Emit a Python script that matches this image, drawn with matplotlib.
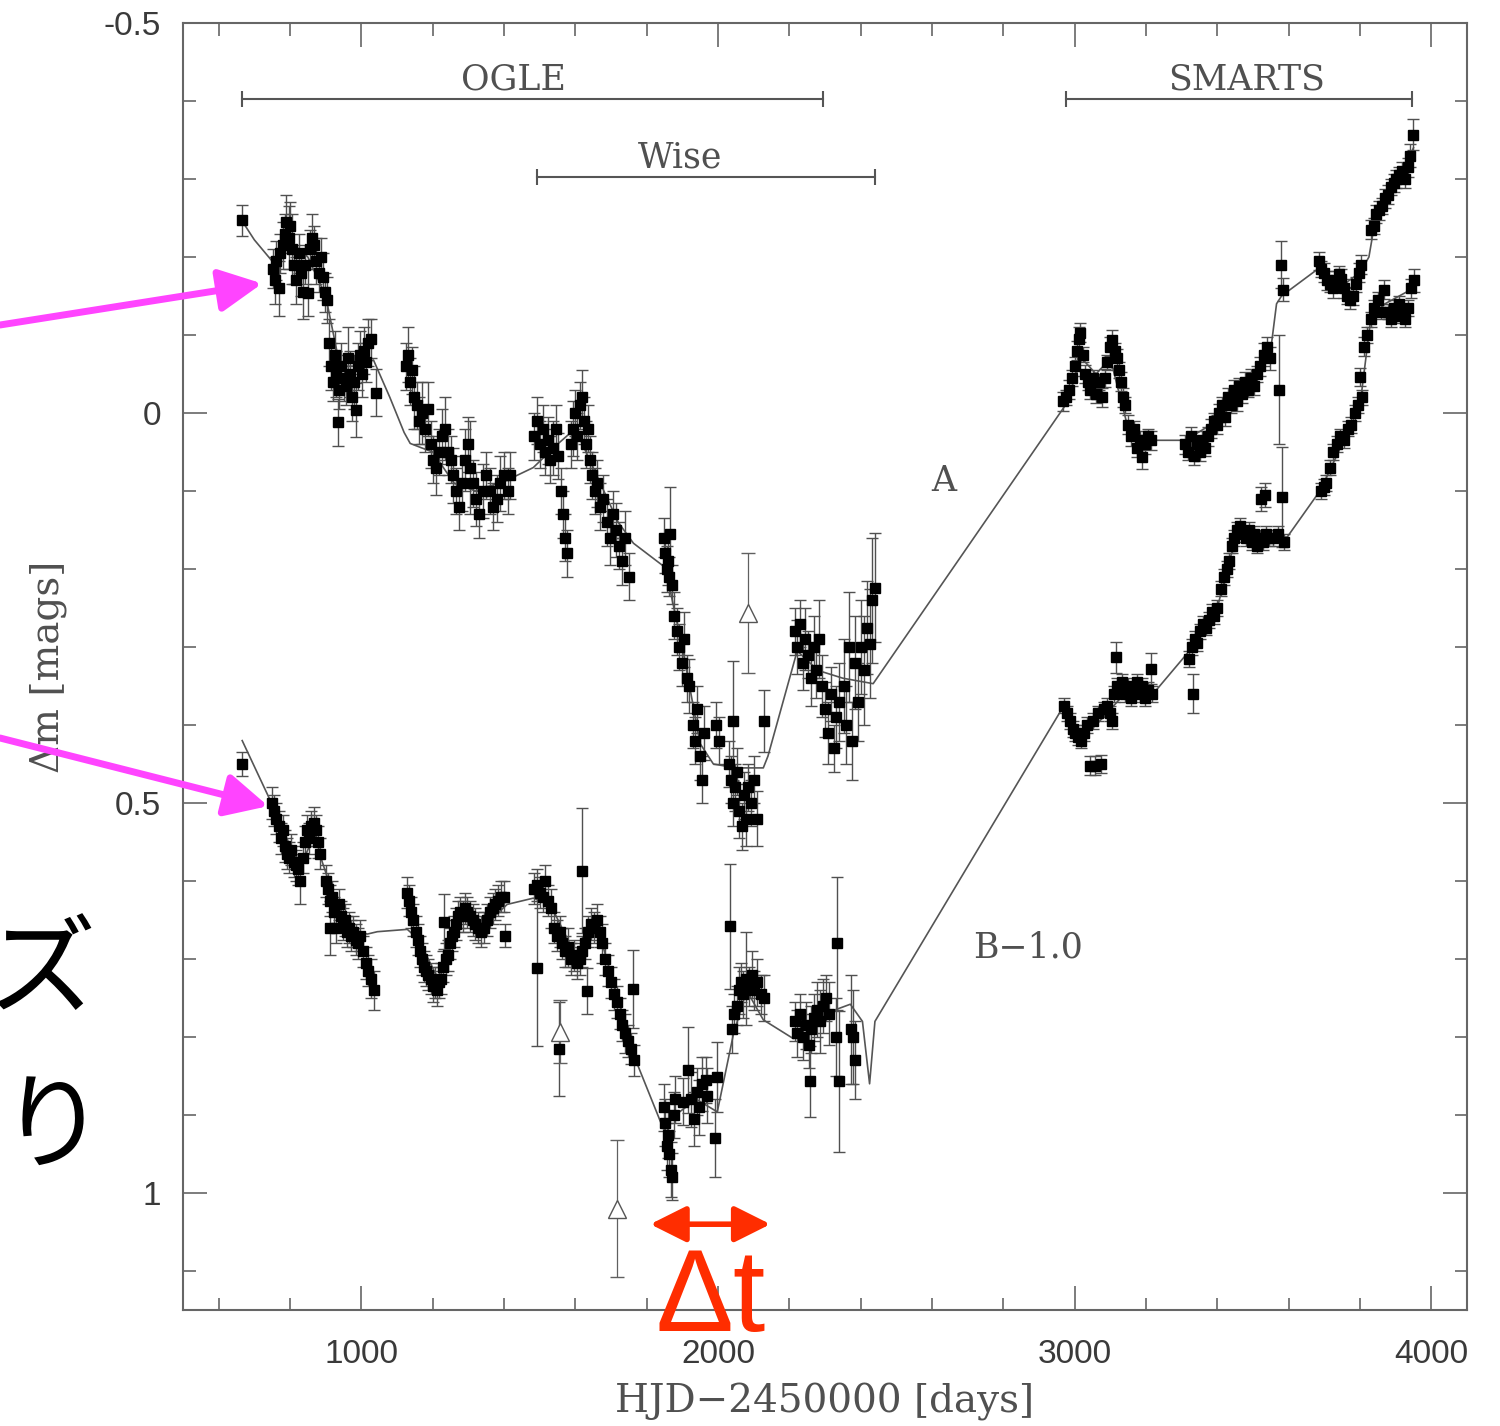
import matplotlib
matplotlib.use("Agg")
import matplotlib.pyplot as plt
from matplotlib.ticker import FixedLocator, MultipleLocator, FixedFormatter

# ---------------- light curve of image A (OGLE + SMARTS) ----------------
a_day = [
    666, 752, 757, 762, 768, 773, 779, 785, 790, 796,
    801, 807, 812, 818, 824, 830, 836, 842, 850, 856,
    862, 868, 874, 880, 886, 892, 898, 904,
    910, 915, 920, 925, 930, 934, 938, 944, 950, 956,
    962, 968, 974, 980, 985, 990, 996, 1002, 1008, 1014,
    1020, 1026, 1040,
    1125, 1130, 1136, 1142, 1148, 1155, 1162, 1170, 1178, 1186,
    1195, 1202, 1210, 1218, 1226, 1234, 1242, 1250, 1258, 1266,
    1274, 1282, 1290, 1298, 1306, 1314, 1322, 1330, 1340, 1350,
    1360, 1370, 1380, 1390, 1400, 1410, 1418,
    1485, 1492, 1500, 1508, 1515, 1522, 1530, 1538, 1546, 1552,
    1560, 1566, 1572, 1578, 1588, 1594, 1600, 1606, 1612, 1618,
    1624, 1630, 1636, 1642, 1648, 1655, 1662, 1670, 1678, 1690,
    1698, 1706, 1714, 1722, 1730, 1740, 1750,
    1848, 1852, 1856, 1860, 1864, 1866, 1872, 1878, 1885, 1892,
    1898, 1905, 1912, 1920, 1930, 1936, 1942, 1950, 1956, 1962,
    1995, 2003, 2030, 2036, 2042, 2043, 2048, 2054, 2060, 2066,
    2072, 2078, 2084, 2092, 2100, 2108, 2128,
    2215, 2222, 2230, 2238, 2245, 2252, 2260, 2268, 2276, 2284,
    2292, 2300, 2308, 2316, 2324, 2332, 2340, 2352, 2360, 2368,
    2376, 2384, 2392, 2400, 2410, 2418, 2426, 2432, 2440,
    2968, 2976, 2984, 2992, 3000, 3006, 3012, 3016, 3022, 3028,
    3036, 3044, 3052, 3060, 3068, 3076, 3084, 3092, 3100, 3106,
    3112, 3118, 3124, 3130, 3136, 3142, 3150, 3158, 3166, 3174,
    3182, 3190, 3198, 3206, 3214,
    3310, 3318, 3326, 3334, 3342, 3350, 3358, 3366, 3374, 3382,
    3390, 3398, 3406, 3414, 3422, 3430, 3438, 3446, 3454, 3462,
    3470, 3478, 3486, 3494, 3502, 3510, 3520, 3530, 3540, 3548,
    3572, 3578, 3585,
    3685, 3692, 3700, 3708, 3716, 3724, 3732, 3740, 3748, 3756,
    3764, 3772, 3780, 3788, 3796, 3804,
    3830, 3838, 3846, 3854, 3862, 3870, 3878, 3886, 3894, 3902,
    3910, 3918, 3926, 3934, 3940, 3948,
]
a_mag = [
    -0.247, -0.185, -0.170, -0.195, -0.160, -0.205, -0.215, -0.230, -0.245, -0.225,
    -0.240, -0.210, -0.190, -0.170, -0.205, -0.180, -0.155, -0.190, -0.154, -0.210,
    -0.225, -0.215, -0.195, -0.180, -0.200, -0.175, -0.155, -0.145,
    -0.090, -0.060, -0.040, -0.075, -0.050, 0.012, -0.030, -0.060, -0.045, -0.035,
    -0.070, -0.050, -0.020, -0.040, -0.004, -0.060, -0.075, -0.050, -0.080, -0.065,
    -0.090, -0.095, -0.026,
    -0.060, -0.075, -0.040, -0.055, -0.020, -0.010, 0.010, 0.000, 0.020, -0.005,
    0.040, 0.060, 0.070, 0.050, 0.030, 0.020, 0.050, 0.060, 0.080, 0.100,
    0.120, 0.090, 0.060, 0.040, 0.070, 0.090, 0.110, 0.130, 0.100, 0.080,
    0.100, 0.120, 0.110, 0.090, 0.080, 0.100, 0.080,
    0.030, 0.010, 0.040, 0.020, 0.050, 0.035, 0.060, 0.045, 0.020, 0.055,
    0.100, 0.130, 0.160, 0.180, 0.040, 0.020, 0.000, 0.030, -0.010, -0.020,
    0.010, 0.040, 0.020, 0.060, 0.080, 0.100, 0.090, 0.120, 0.110, 0.140,
    0.160, 0.130, 0.150, 0.170, 0.190, 0.160, 0.210,
    0.160, 0.180, 0.200, 0.190, 0.210, 0.155, 0.220, 0.260, 0.280, 0.300,
    0.320, 0.290, 0.340, 0.350, 0.400, 0.420, 0.380, 0.440, 0.470, 0.410,
    0.400, 0.420, 0.450, 0.470, 0.500, 0.395, 0.480, 0.460, 0.510, 0.530,
    0.490, 0.520, 0.480, 0.500, 0.470, 0.520, 0.395,
    0.280, 0.300, 0.270, 0.320, 0.290, 0.310, 0.340, 0.300, 0.330, 0.290,
    0.350, 0.380, 0.410, 0.360, 0.430, 0.390, 0.370, 0.350, 0.400, 0.300,
    0.420, 0.320, 0.370, 0.300, 0.330, 0.275, 0.296, 0.240, 0.224,
    -0.015, -0.020, -0.030, -0.045, -0.060, -0.080, -0.095, -0.103, -0.075, -0.050,
    -0.040, -0.030, -0.045, -0.025, -0.040, -0.020, -0.045, -0.065, -0.085, -0.094,
    -0.080, -0.070, -0.055, -0.040, -0.020, -0.010, 0.015, 0.030, 0.020, 0.045,
    0.035, 0.057, 0.040, 0.030, 0.035,
    0.040, 0.050, 0.030, 0.055, 0.040, 0.050, 0.035, 0.045, 0.030, 0.020,
    0.010, 0.015, 0.000, -0.010, 0.005, -0.020, -0.010, -0.030, -0.015, -0.035,
    -0.025, -0.040, -0.030, -0.045, -0.035, -0.050, -0.060, -0.075, -0.085, -0.070,
    -0.030, -0.190, -0.158,
    -0.195, -0.185, -0.180, -0.170, -0.165, -0.160, -0.170, -0.178, -0.172, -0.160,
    -0.150, -0.145, -0.150, -0.165, -0.180, -0.190,
    -0.235, -0.240, -0.255, -0.260, -0.265, -0.275, -0.280, -0.290, -0.295, -0.300,
    -0.305, -0.310, -0.300, -0.315, -0.330, -0.357,
]
a_err = [
    0.020, 0.025, 0.030, 0.025, 0.035, 0.025, 0.030, 0.025, 0.035, 0.040,
    0.030, 0.045, 0.025, 0.030, 0.025, 0.030, 0.035, 0.025, 0.030, 0.025,
    0.030, 0.025, 0.030, 0.025, 0.025, 0.030, 0.025, 0.030,
    0.030, 0.030, 0.025, 0.030, 0.030, 0.030, 0.025, 0.030, 0.030, 0.025,
    0.040, 0.030, 0.030, 0.035, 0.035, 0.030, 0.030, 0.030, 0.030, 0.025,
    0.030, 0.025, 0.030,
    0.030, 0.035, 0.030, 0.030, 0.040, 0.030, 0.030, 0.040, 0.030, 0.035,
    0.030, 0.030, 0.035, 0.030, 0.035, 0.040, 0.030, 0.030, 0.035, 0.030,
    0.030, 0.035, 0.040, 0.035, 0.060, 0.030, 0.035, 0.030, 0.035, 0.030,
    0.030, 0.030, 0.030, 0.035, 0.030, 0.030, 0.030,
    0.030, 0.030, 0.030, 0.030, 0.030, 0.030, 0.030, 0.035, 0.030, 0.030,
    0.030, 0.030, 0.030, 0.030, 0.030, 0.035, 0.030, 0.030, 0.030, 0.035,
    0.030, 0.030, 0.030, 0.030, 0.030, 0.030, 0.030, 0.030, 0.030, 0.030,
    0.035, 0.030, 0.035, 0.030, 0.030, 0.035, 0.030,
    0.025, 0.025, 0.030, 0.030, 0.025, 0.060, 0.025, 0.030, 0.030, 0.030,
    0.030, 0.035, 0.030, 0.035, 0.030, 0.030, 0.030, 0.030, 0.030, 0.035,
    0.030, 0.030, 0.030, 0.030, 0.030, 0.077, 0.030, 0.030, 0.035, 0.030,
    0.030, 0.035, 0.030, 0.030, 0.030, 0.035, 0.040,
    0.030, 0.035, 0.030, 0.035, 0.040, 0.030, 0.035, 0.040, 0.035, 0.050,
    0.040, 0.035, 0.040, 0.035, 0.030, 0.040, 0.050, 0.060, 0.050, 0.070,
    0.050, 0.060, 0.050, 0.060, 0.070, 0.060, 0.070, 0.080, 0.070,
    0.012, 0.010, 0.012, 0.010, 0.012, 0.012, 0.015, 0.012, 0.010, 0.012,
    0.010, 0.012, 0.010, 0.012, 0.010, 0.012, 0.012, 0.010, 0.012, 0.012,
    0.010, 0.012, 0.010, 0.012, 0.012, 0.010, 0.012, 0.012, 0.010, 0.012,
    0.012, 0.015, 0.012, 0.010, 0.012,
    0.012, 0.010, 0.012, 0.012, 0.010, 0.012, 0.012, 0.010, 0.012, 0.012,
    0.010, 0.012, 0.012, 0.010, 0.012, 0.012, 0.010, 0.012, 0.012, 0.010,
    0.012, 0.012, 0.010, 0.012, 0.012, 0.010, 0.012, 0.015, 0.012, 0.015,
    0.070, 0.030, 0.015,
    0.012, 0.010, 0.012, 0.012, 0.010, 0.012, 0.012, 0.010, 0.012, 0.012,
    0.010, 0.012, 0.012, 0.010, 0.012, 0.012,
    0.012, 0.010, 0.012, 0.012, 0.010, 0.012, 0.012, 0.010, 0.012, 0.012,
    0.010, 0.012, 0.012, 0.012, 0.015, 0.020,
]

# ---------------- light curve of image B, shifted by -1.0 mag ----------------
b_day = [
    666, 750, 756, 762, 768, 774, 780, 786, 792, 798,
    804, 810, 816, 822, 829, 836, 842, 848, 854, 860,
    866, 872, 878, 884,
    900, 906, 912, 913, 918, 924, 930, 936, 942, 948,
    954, 960, 966, 972, 978, 984, 990, 996, 1004, 1012,
    1020, 1028, 1036,
    1128, 1134, 1140, 1146, 1152, 1158, 1164, 1170, 1176, 1182,
    1188, 1194, 1200, 1206, 1212, 1218, 1224, 1230, 1236, 1242,
    1248, 1254, 1260, 1266, 1272, 1278, 1284, 1290, 1296, 1304,
    1312, 1320, 1328, 1336, 1344, 1352, 1360, 1368, 1376, 1384,
    1392, 1400, 1232, 1402,
    1485, 1492, 1500, 1508, 1516, 1524, 1532, 1540, 1548, 1556,
    1564, 1572, 1580, 1588, 1596, 1604, 1612, 1620, 1628, 1636,
    1644, 1652, 1660, 1668, 1676, 1684, 1692, 1700, 1708, 1716,
    1724, 1732, 1740, 1748, 1756, 1764,
    1493, 1553, 1620, 1634, 1763,
    1848, 1852, 1856, 1860, 1864, 1868, 1872, 1876, 1880, 1903,
    1917, 1925, 1932, 1940, 1948, 1956, 1965, 1970, 1992, 1998,
    2034, 2040, 2046, 2052, 2058, 2064, 2070, 2078, 2086, 2094,
    2102, 2110, 2120, 2130,
    2215, 2222, 2230, 2238, 2246, 2254, 2259, 2262, 2270, 2278,
    2286, 2294, 2302, 2310, 2330, 2334, 2338, 2372, 2378, 2384,
    2970, 2978, 2986, 2994, 3002, 3010, 3018, 3026, 3034, 3042,
    3050, 3058, 3066, 3074, 3082, 3090, 3098, 3106, 3110, 3115,
    3118, 3126, 3134, 3142, 3150, 3158, 3166, 3174, 3182, 3190,
    3198, 3206, 3213, 3216,
    3320, 3328, 3333, 3336, 3344, 3352, 3360, 3368, 3376, 3384,
    3392, 3400, 3410, 3418, 3426, 3434, 3440, 3448, 3456, 3464,
    3472, 3480, 3488, 3496, 3504, 3512, 3520, 3522, 3528, 3535,
    3536, 3544, 3556, 3570, 3582, 3588,
    3690, 3698, 3706, 3715, 3725, 3735, 3745, 3755, 3765, 3775,
    3785, 3795, 3801, 3805, 3810, 3820, 3830, 3840, 3850, 3860,
    3868, 3878, 3886, 3894, 3902, 3910, 3918, 3926, 3934, 3942,
    3950,
]
b_mag = [
    0.450, 0.500, 0.510, 0.520, 0.530, 0.545, 0.535, 0.555, 0.565, 0.570,
    0.560, 0.575, 0.580, 0.585, 0.600, 0.570, 0.550, 0.535, 0.545, 0.530,
    0.525, 0.535, 0.550, 0.565,
    0.600, 0.610, 0.625, 0.660, 0.620, 0.640, 0.660, 0.630, 0.645, 0.655,
    0.650, 0.665, 0.660, 0.670, 0.665, 0.675, 0.680, 0.670, 0.690, 0.705,
    0.715, 0.725, 0.740,
    0.615, 0.625, 0.640, 0.650, 0.665, 0.675, 0.690, 0.700, 0.710, 0.715,
    0.720, 0.725, 0.735, 0.730, 0.740, 0.730, 0.725, 0.710, 0.700, 0.695,
    0.680, 0.670, 0.665, 0.655, 0.645, 0.640, 0.645, 0.635, 0.640, 0.645,
    0.650, 0.655, 0.660, 0.665, 0.660, 0.650, 0.640, 0.635, 0.630, 0.625,
    0.620, 0.620, 0.652, 0.670,
    0.610, 0.605, 0.615, 0.620, 0.600, 0.625, 0.635, 0.660, 0.670, 0.665,
    0.680, 0.690, 0.685, 0.700, 0.695, 0.705, 0.700, 0.690, 0.680, 0.665,
    0.655, 0.660, 0.650, 0.665, 0.680, 0.700, 0.715, 0.730, 0.745, 0.755,
    0.770, 0.785, 0.795, 0.805, 0.815, 0.830,
    0.712, 0.815, 0.587, 0.741, 0.738,
    0.890, 0.910, 0.940, 0.925, 0.950, 0.970, 0.979, 0.900, 0.880, 0.883,
    0.842, 0.880, 0.905, 0.870, 0.890, 0.860, 0.855, 0.875, 0.930, 0.851,
    0.658, 0.790, 0.770, 0.760, 0.740, 0.730, 0.745, 0.725, 0.735, 0.720,
    0.740, 0.730, 0.745, 0.750,
    0.780, 0.795, 0.770, 0.800, 0.785, 0.810, 0.857, 0.790, 0.775, 0.765,
    0.780, 0.760, 0.750, 0.770, 0.800, 0.680, 0.857, 0.790, 0.800, 0.830,
    0.375, 0.385, 0.395, 0.405, 0.410, 0.415, 0.420, 0.410, 0.400, 0.452,
    0.395, 0.452, 0.385, 0.450, 0.380, 0.375, 0.385, 0.395, 0.360, 0.313,
    0.350, 0.355, 0.345, 0.360, 0.350, 0.365, 0.355, 0.345, 0.360, 0.350,
    0.365, 0.355, 0.328, 0.360,
    0.315, 0.300, 0.360, 0.290, 0.295, 0.280, 0.270, 0.275, 0.265, 0.255,
    0.260, 0.250, 0.225, 0.210, 0.200, 0.190, 0.170, 0.160, 0.150, 0.145,
    0.155, 0.160, 0.150, 0.165, 0.155, 0.170, 0.160, 0.110, 0.165, 0.105,
    0.155, 0.160, 0.160, 0.155, 0.108, 0.165,
    0.100, 0.095, 0.090, 0.070, 0.050, 0.040, 0.030, 0.035, 0.020, 0.015,
    0.000, -0.010, -0.046, -0.020, -0.085, -0.100, -0.120, -0.135, -0.145, -0.130,
    -0.158, -0.130, -0.120, -0.135, -0.125, -0.140, -0.130, -0.120, -0.135, -0.160,
    -0.170,
]
b_err = [
    0.015, 0.020, 0.020, 0.020, 0.020, 0.020, 0.020, 0.020, 0.020, 0.020,
    0.020, 0.020, 0.020, 0.020, 0.030, 0.020, 0.020, 0.020, 0.020, 0.020,
    0.020, 0.020, 0.020, 0.020,
    0.020, 0.020, 0.020, 0.035, 0.020, 0.020, 0.020, 0.020, 0.020, 0.020,
    0.020, 0.020, 0.020, 0.020, 0.020, 0.020, 0.020, 0.020, 0.020, 0.020,
    0.020, 0.025, 0.025,
    0.020, 0.020, 0.020, 0.020, 0.020, 0.020, 0.020, 0.020, 0.020, 0.020,
    0.020, 0.020, 0.020, 0.020, 0.020, 0.020, 0.020, 0.020, 0.020, 0.020,
    0.020, 0.020, 0.020, 0.020, 0.020, 0.020, 0.020, 0.020, 0.020, 0.020,
    0.020, 0.020, 0.020, 0.020, 0.020, 0.020, 0.020, 0.020, 0.020, 0.020,
    0.020, 0.020, 0.035, 0.015,
    0.020, 0.020, 0.020, 0.020, 0.020, 0.020, 0.025, 0.020, 0.020, 0.020,
    0.020, 0.020, 0.025, 0.020, 0.020, 0.020, 0.020, 0.020, 0.020, 0.020,
    0.020, 0.020, 0.020, 0.020, 0.025, 0.020, 0.020, 0.020, 0.020, 0.020,
    0.020, 0.020, 0.025, 0.020, 0.020, 0.020,
    0.100, 0.060, 0.080, 0.030, 0.050,
    0.030, 0.030, 0.030, 0.030, 0.030, 0.035, 0.030, 0.030, 0.030, 0.030,
    0.055, 0.035, 0.035, 0.030, 0.035, 0.035, 0.030, 0.035, 0.050, 0.045,
    0.080, 0.030, 0.025, 0.025, 0.030, 0.025, 0.030, 0.060, 0.025, 0.030,
    0.025, 0.030, 0.025, 0.030,
    0.025, 0.030, 0.025, 0.030, 0.030, 0.030, 0.045, 0.030, 0.030, 0.035,
    0.040, 0.035, 0.030, 0.040, 0.050, 0.085, 0.090, 0.070, 0.060, 0.050,
    0.010, 0.010, 0.010, 0.010, 0.010, 0.010, 0.010, 0.010, 0.010, 0.012,
    0.010, 0.012, 0.010, 0.012, 0.010, 0.010, 0.010, 0.010, 0.010, 0.020,
    0.010, 0.010, 0.010, 0.010, 0.010, 0.010, 0.010, 0.010, 0.010, 0.010,
    0.010, 0.010, 0.020, 0.010,
    0.010, 0.010, 0.025, 0.010, 0.010, 0.010, 0.010, 0.010, 0.010, 0.010,
    0.010, 0.010, 0.010, 0.010, 0.010, 0.010, 0.010, 0.010, 0.010, 0.010,
    0.010, 0.010, 0.010, 0.010, 0.010, 0.010, 0.010, 0.015, 0.010, 0.015,
    0.010, 0.010, 0.010, 0.010, 0.064, 0.010,
    0.010, 0.010, 0.010, 0.010, 0.010, 0.010, 0.010, 0.010, 0.010, 0.010,
    0.010, 0.010, 0.012, 0.010, 0.012, 0.010, 0.010, 0.010, 0.010, 0.010,
    0.012, 0.010, 0.010, 0.010, 0.010, 0.010, 0.010, 0.010, 0.010, 0.012,
    0.015,
]

# ---------------- Wise photometry (open triangles) ----------------
wise_day = [2085, 1558, 1718]
wise_mag = [0.256, 0.793, 1.020]
wise_err = [0.077, 0.040, 0.088]

# ---------------- model curves ----------------
fit_a_day = [666, 700, 753, 800, 850, 900, 940, 1000, 1034, 1080, 1120, 1137, 1165,
             1200, 1260, 1320, 1409, 1482, 1550, 1600, 1660, 1720, 1763, 1852, 1900,
             1950, 1987, 2050, 2127, 2140, 2222, 2280, 2350, 2435, 2974, 3020, 3060,
             3100, 3150, 3200, 3310, 3400, 3500, 3548, 3566, 3580, 3680, 3740, 3800,
             3825, 3840, 3900, 3950]
fit_a_mag = [-0.246, -0.222, -0.193, -0.220, -0.200, -0.150, -0.060, -0.060, -0.068,
             -0.020, 0.025, 0.039, 0.044, 0.050, 0.090, 0.100, 0.086, 0.070, 0.040,
             0.020, 0.080, 0.140, 0.167, 0.198, 0.300, 0.424, 0.450, 0.455, 0.455,
             0.440, 0.305, 0.330, 0.340, 0.347, -0.010, -0.070, -0.050, -0.070,
             0.020, 0.035, 0.035, 0.010, -0.040, -0.075, -0.140, -0.150, -0.184,
             -0.160, -0.180, -0.200, -0.240, -0.290, -0.340]
fit_b_day = [666, 745, 800, 830, 870, 890, 930, 980, 1017, 1045, 1129, 1160, 1215,
             1260, 1300, 1350, 1409, 1482, 1530, 1600, 1660, 1700, 1774, 1847, 1880,
             1940, 1998, 2043, 2080, 2127, 2211, 2300, 2371, 2405, 2425, 2440, 2970,
             3020, 3060, 3100, 3150, 3220, 3316, 3360, 3400, 3430, 3460, 3548, 3596,
             3689, 3760, 3800, 3830, 3870, 3950]
fit_b_mag = [0.420, 0.497, 0.555, 0.580, 0.540, 0.575, 0.630, 0.665, 0.668, 0.665,
             0.662, 0.675, 0.725, 0.665, 0.640, 0.655, 0.630, 0.622, 0.630, 0.695,
             0.655, 0.720, 0.835, 0.918, 0.900, 0.880, 0.896, 0.797, 0.740, 0.778,
             0.802, 0.770, 0.758, 0.780, 0.860, 0.780, 0.375, 0.415, 0.400, 0.380,
             0.355, 0.360, 0.308, 0.275, 0.250, 0.195, 0.150, 0.160, 0.159, 0.099,
             0.030, -0.010, -0.120, -0.140, -0.160]

# ---------------- survey coverage bars ----------------
survey_names = ["OGLE", "Wise", "SMARTS"]
survey_start = [666, 1493, 2976]
survey_end = [2295, 2441, 3946]
survey_level = [-0.402, -0.302, -0.402]
survey_label_day = [1426, 1894, 3481]
survey_label_mag = [-0.428, -0.328, -0.428]

# ---------------- curve names ----------------
curve_names = ["A", "B\u22121.0"]
curve_name_day = [2634, 2870]
curve_name_mag = [0.087, 0.685]

# ---------------- annotations ----------------
pointer_day = [722, 739]
pointer_mag = [-0.166, 0.504]
pointer_tail_px = [(0, 1101), (0, 688)]
delay_start, delay_end, delay_level = 1810, 2147, 1.040

W, H = 1500, 1426
plt.rcParams["font.family"] = ["Liberation Sans", "DejaVu Sans"]
plt.rcParams["axes.unicode_minus"] = False

fig = plt.figure(figsize=(W / 100, H / 100), dpi=100)
ax = fig.add_axes([183 / W, 1 - 1310 / H, 1284 / W, 1287 / H])
ax.set_xlim(500, 4100)
ax.set_ylim(1.15, -0.5)

axis_grey = "#666666"
text_grey = "#505050"
serif = "DejaVu Serif"

for s in ax.spines.values():
    s.set_color(axis_grey)
    s.set_linewidth(1.5)

ax.xaxis.set_major_locator(FixedLocator([1000, 2000, 3000, 4000]))
ax.xaxis.set_minor_locator(MultipleLocator(200))
ax.yaxis.set_major_locator(FixedLocator([-0.5, 0, 0.5, 1]))
ax.yaxis.set_major_formatter(FixedFormatter(["-0.5", "0", "0.5", "1"]))
ax.yaxis.set_minor_locator(MultipleLocator(0.1))
ax.tick_params(which="both", direction="in", top=True, right=True,
               color=axis_grey, width=1.2, labelsize=24, labelcolor="#3a3a3a")
ax.tick_params(which="major", length=17)
ax.tick_params(which="minor", length=9)
ax.tick_params(axis="x", which="major", pad=21)
ax.tick_params(axis="y", which="major", pad=16)

# model curves
ax.plot(fit_a_day, fit_a_mag, color="#555555", lw=1.2, zorder=1)
ax.plot(fit_b_day, fit_b_mag, color="#555555", lw=1.2, zorder=1)

# measured photometry
for d, m, e in [(a_day, a_mag, a_err), (b_day, b_mag, b_err)]:
    ax.errorbar(d, m, yerr=e, fmt="s", ms=7.5, mfc="black", mec="black",
                ecolor="#505050", elinewidth=1.0, capsize=4.5, capthick=1.0, zorder=3)
ax.errorbar(wise_day, wise_mag, yerr=wise_err, fmt="^", ms=13, mfc="white",
            mec="#555555", mew=1.0, ecolor="#606060", elinewidth=0.9, capsize=5,
            capthick=0.9, zorder=3)

# survey coverage bars
for name, x0, x1, lev, lx, ly in zip(survey_names, survey_start, survey_end,
                                      survey_level, survey_label_day, survey_label_mag):
    ax.plot([x0, x1], [lev, lev], color="#555555", lw=1.5, marker="|", ms=12,
            mew=1.5, zorder=2)
    ax.text(lx, ly, name, fontfamily=serif, fontsize=25, color=text_grey,
            ha="center", va="center")

for name, x, y in zip(curve_names, curve_name_day, curve_name_mag):
    ax.text(x, y, name, fontfamily=serif, fontsize=25, color=text_grey,
            ha="center", va="center")

ax.set_xlabel("HJD\u22122450000 [days]", fontfamily=serif, fontsize=28, color=text_grey)
ax.xaxis.set_label_coords(0.5, -0.057)
ax.xaxis.label.set_va("top")
ax.set_ylabel("\u0394m [mags]", fontfamily=serif, fontsize=28, color=text_grey)
ax.yaxis.set_label_coords(-0.09, 0.5)

# magenta pointers to the start of each curve
pink = "#ff44ff"
for xd, yd, tail in zip(pointer_day, pointer_mag, pointer_tail_px):
    ax.annotate("", xy=(xd, yd), xycoords="data", xytext=tail,
                textcoords="figure pixels", annotation_clip=False,
                arrowprops=dict(arrowstyle="-|>,head_length=1.3,head_width=0.65",
                                color=pink, lw=5, shrinkA=0, shrinkB=0,
                                mutation_scale=20), zorder=6)

# time delay marker
red = "#ff2d00"
ax.annotate("", xy=(delay_end, delay_level), xytext=(delay_start, delay_level),
            arrowprops=dict(arrowstyle="<|-|>,head_length=1.1,head_width=0.55",
                            color=red, lw=4, shrinkA=0, shrinkB=0, mutation_scale=20),
            zorder=6)
ax.text((delay_start + delay_end) / 2, 1.177, "\u0394t", color=red, fontsize=84,
        fontfamily="Liberation Sans", ha="center", va="baseline", zorder=7,
        clip_on=False)

# Japanese caption fragments at the left edge
fig.text(96 / W, 1 - 1005 / H, "\u30ba", fontsize=78, color="black",
         fontfamily=["Noto Sans CJK JP", "DejaVu Sans"], ha="right", va="baseline")
fig.text(52 / W, 1 - 1160 / H, "\u308a", fontsize=76, color="black",
         fontfamily=["Noto Sans CJK JP", "DejaVu Sans"], ha="center", va="baseline")

fig.savefig("out.png", dpi=100, facecolor="white")
